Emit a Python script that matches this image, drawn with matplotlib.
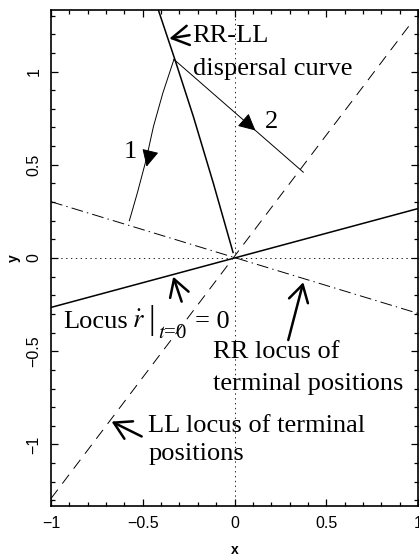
import matplotlib
matplotlib.use("Agg")
import matplotlib.pyplot as plt

# ---- data ----
# straight loci through the origin (end points)
locus_x = [-1.0, 1.0]
locus_y = [-0.265, 0.265]          # rdot|t=0 = 0  (solid)
ll_x = [-1.0, 0.955]
ll_y = [-1.29, 1.25]               # LL terminal positions (dashed)
rr_x = [-1.0, 1.0]
rr_y = [0.302, -0.297]             # RR terminal positions (dash-dot)

# RR-LL dispersal curve
disp_x = [-0.415, -0.324, -0.224, -0.115, -0.008]
disp_y = [1.33, 1.062, 0.758, 0.40, 0.03]

# trajectory 1 (curved, ends on RR locus)
tr1_x = [-0.33, -0.391, -0.442, -0.482, -0.53, -0.573]
tr1_y = [1.065, 0.883, 0.704, 0.525, 0.347, 0.20]
# trajectory 2 (straight, ends on LL locus)
tr2_x = [-0.33, 0.375]
tr2_y = [1.065, 0.46]

ticks = [-1, -0.5, 0, 0.5, 1]
tick_labels = ["\u22121", "\u22120.5", "0", "0.5", "1"]

plt.rcParams["lines.scale_dashes"] = False
plt.rcParams["mathtext.fontset"] = "stix"
SERIF = "Liberation Serif"
SANS = "Liberation Sans"
FS = 19

fig = plt.figure(figsize=(4.19, 5.57), dpi=100)
ax = fig.add_axes([51/419, 51/557, 367/419, 496/557])
ax.set_xlim(-1, 1)
ax.set_ylim(-1.33, 1.33)

# guide lines
ax.axhline(0, color="k", lw=0.6, ls=(0, (1, 2.5)), zorder=1)
ax.axvline(0, color="k", lw=0.6, ls=(0, (1, 2.5)), zorder=1)

ax.plot(locus_x, locus_y, color="k", lw=1.1, zorder=2)
ax.plot(ll_x, ll_y, color="k", lw=0.7, ls=(0, (8, 5.5)), zorder=2)
ax.plot(rr_x, rr_y, color="k", lw=0.7, ls=(0, (8.5, 3, 1, 3)), zorder=2)
ax.plot(disp_x, disp_y, color="k", lw=1.1, zorder=3)
ax.plot(tr1_x, tr1_y, color="k", lw=0.7, zorder=3)
ax.plot(tr2_x, tr2_y, color="k", lw=0.7, zorder=3)

# filled direction heads on the trajectories
tri = dict(arrowstyle="-|>,head_length=1.0,head_width=0.5", mutation_scale=10.5,
           lw=0.7, color="k", fc="k", shrinkA=0, shrinkB=0)
ax.annotate("", xy=(-0.479, 0.49), xytext=(-0.468, 0.535), arrowprops=tri, zorder=4)
t0, t1 = 0.58, 0.63
p = lambda t: (tr2_x[0] + t*(tr2_x[1]-tr2_x[0]), tr2_y[0] + t*(tr2_y[1]-tr2_y[0]))
ax.annotate("", xy=p(t1), xytext=p(t0), arrowprops=tri, zorder=4)
ax.text(-0.57, 0.57, "1", fontsize=FS, family=SERIF, ha="center", va="center")
ax.text(0.2, 0.73, "2", fontsize=FS, family=SERIF, ha="center", va="center")

# open-headed pointer arrows + labels
opn = dict(arrowstyle="->,head_length=0.6,head_width=0.35", mutation_scale=20,
           lw=1.8, color="k", shrinkA=0, shrinkB=0)

def label(x, y, s, **kw):
    ax.text(x, y, s, fontsize=kw.pop("fontsize", FS), family=SERIF,
            ha=kw.pop("ha", "left"), va="baseline", **kw)

ax.annotate("", xy=(-0.355, 1.177), xytext=(-0.245, 1.195), arrowprops=opn, zorder=5)
label(-0.228, 1.157, "RR-LL")
label(-0.228, 0.981, "dispersal curve")

ax.annotate("", xy=(-0.334, -0.10), xytext=(-0.288, -0.234), arrowprops=opn, zorder=5)
label(-0.933, -0.377, "Locus")
label(-0.560, -0.377, r"$\dot{r}$")
label(-0.451, -0.383, "|", fontsize=24, ha="center")
label(-0.415, -0.4306, r"$t$=0", fontsize=15)
label(-0.215, -0.377, "= 0")

ax.annotate("", xy=(0.375, -0.13), xytext=(0.293, -0.44), arrowprops=opn, zorder=5)
label(-0.115, -0.538, "RR locus of")
label(-0.115, -0.708, "terminal positions")

ax.annotate("", xy=(-0.67, -0.877), xytext=(-0.506, -0.957), arrowprops=opn, zorder=5)
label(-0.47, -0.931, "LL locus of terminal")
label(-0.47, -1.083, "positions")

# axes styling
ax.set_xticks(ticks)
ax.set_yticks(ticks)
ax.set_xticklabels(tick_labels)
ax.set_yticklabels(tick_labels, rotation=90, va="center")
ax.set_xticks([i/10 for i in range(-10, 11)], minor=True)
ax.set_yticks([i/10 for i in range(-13, 14)], minor=True)
ax.tick_params(which="both", direction="in", top=True, right=True, width=0.9)
ax.tick_params(which="major", length=5, labelsize=11.5, pad=7)
ax.tick_params(which="minor", length=3)
for lab in ax.get_xticklabels() + ax.get_yticklabels():
    lab.set_family(SANS)
for s in ax.spines.values():
    s.set_linewidth(1.2)
ax.set_xlabel("x", fontsize=10, fontweight="bold", family=SANS, labelpad=9)
ax.set_ylabel("y", fontsize=10, fontweight="bold", family=SANS, labelpad=4)

fig.savefig("out.png", dpi=100)
